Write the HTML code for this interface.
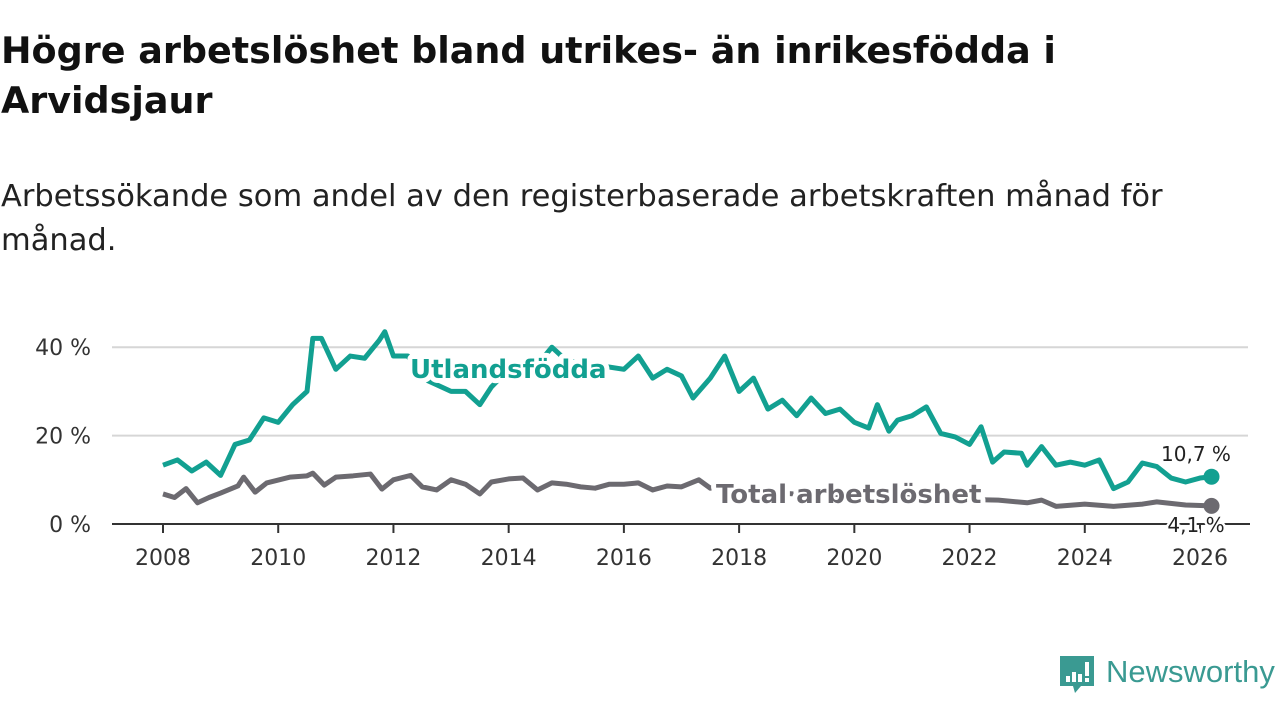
<!DOCTYPE html>
<html><head><meta charset="utf-8">
<style>
body{margin:0;width:1280px;height:720px;background:#fff;font-family:"DejaVu Sans",sans-serif;overflow:hidden;position:relative}
.title{position:absolute;left:1px;top:26px;font-size:36.5px;font-weight:bold;color:#111;line-height:50px}
.sub{position:absolute;left:1px;top:175px;font-size:30.5px;color:#222;line-height:44px}
svg{position:absolute;left:0;top:0}
</style></head><body>
<div class="title">Högre arbetslöshet bland utrikes- än inrikesfödda i<br>Arvidsjaur</div>
<div class="sub">Arbetssökande som andel av den registerbaserade arbetskraften månad för<br>månad.</div>
<svg id="chart" width="1280" height="720"></svg>
<script>
const yTicks=[0,20,40];
const yTickLabels=["0 %","20 %","40 %"];
const xTicks=[2008,2010,2012,2014,2016,2018,2020,2022,2024,2026];
const foreignX=[2008,2008.25,2008.5,2008.75,2009,2009.25,2009.5,2009.75,2010,2010.25,2010.5,2010.6,2010.75,2011,2011.25,2011.5,2011.75,2011.85,2012,2012.25,2012.5,2013,2013.25,2013.5,2013.7,2014,2014.5,2014.75,2015,2015.5,2016,2016.25,2016.5,2016.75,2017,2017.2,2017.5,2017.75,2018,2018.25,2018.5,2018.75,2019,2019.25,2019.5,2019.75,2020,2020.25,2020.4,2020.6,2020.75,2021,2021.25,2021.5,2021.75,2022,2022.2,2022.4,2022.6,2022.9,2023,2023.25,2023.5,2023.75,2024,2024.25,2024.5,2024.75,2025,2025.25,2025.5,2025.75,2026,2026.2];
const foreignVals=[13.3,14.5,12,14,11,18,19,24,23,27,30,42,42,35,38,37.5,41.5,43.5,38,38,33,30,30,27,31,35,36,40,37,36,35,38,33,35,33.5,28.5,33,38,30,33,26,28,24.5,28.5,25,26,23,21.7,27,21,23.5,24.5,26.5,20.5,19.7,18,22,14,16.3,16,13.3,17.5,13.3,14,13.3,14.5,8,9.5,13.8,13,10.4,9.5,10.4,10.7];
const totalX=[2008,2008.2,2008.4,2008.6,2008.8,2009,2009.3,2009.4,2009.6,2009.8,2010.2,2010.5,2010.6,2010.8,2011,2011.3,2011.6,2011.8,2012,2012.3,2012.5,2012.75,2013,2013.25,2013.5,2013.7,2014,2014.25,2014.5,2014.75,2015,2015.25,2015.5,2015.75,2016,2016.25,2016.5,2016.75,2017,2017.3,2017.5,2017.75,2018.25,2018.75,2019.25,2019.75,2020.25,2020.75,2021.25,2021.75,2022.2,2022.5,2023,2023.25,2023.5,2024,2024.5,2025,2025.25,2025.75,2026.2];
const totalVals=[6.8,6,8,4.8,6,7,8.6,10.6,7.2,9.3,10.6,10.9,11.5,8.8,10.6,10.9,11.3,7.9,10,11,8.4,7.7,10,9,6.8,9.5,10.2,10.4,7.7,9.3,9,8.4,8.1,9,9,9.3,7.7,8.6,8.4,10,8.1,9.3,7.5,7,6.5,6,6,7,6.5,6,5.5,5.4,4.8,5.4,4,4.5,4,4.5,5,4.3,4.1];
const NS="http://www.w3.org/2000/svg";
const svg=document.getElementById('chart');
const X=v=>163+(v-2008)*(1200-163)/18;
const Y=v=>524-v*4.42;
function el(t,a,p){const e=document.createElementNS(NS,t);for(const k in a)e.setAttribute(k,a[k]);(p||svg).appendChild(e);return e;}
yTicks.forEach((t,i)=>{
  if(t>0){const g=el('line',{x1:112,x2:1248,y1:Y(t),y2:Y(t),stroke:'#d6d6d6','stroke-width':2});
  
  }
  const l=el('text',{x:91,y:Y(t)+8,'text-anchor':'end','font-size':22,fill:'#333'});l.textContent=yTickLabels[i];
  
  
});
xTicks.forEach(t=>{
  const tk=el('line',{x1:X(t),x2:X(t),y1:524,y2:533,stroke:'#333','stroke-width':2});
  
  
  const l=el('text',{x:X(t),y:565,'text-anchor':'middle','font-size':22,fill:'#333'});l.textContent=t;
  
  
});
const ax=el('line',{x1:112,x2:1250,y1:524,y2:524,stroke:'#333','stroke-width':2});


function line(xs,vs,col,name){
  const p=el('polyline',{points:xs.map((x,i)=>X(x)+','+Y(vs[i])).join(' '),fill:'none',stroke:col,'stroke-width':5,'stroke-linejoin':'round'});
  
  
  const n=xs.length-1;
  const c=el('circle',{cx:X(xs[n]),cy:Y(vs[n]),r:8,fill:col});
  
  
}
line(totalX,totalVals,'#6c6a70','total-line');
line(foreignX,foreignVals,'#12a091','foreign-line');
function lab(txt,x,y,size,col,w,name,anchor,halo){
  const t=el('text',{x:x,y:y,'font-size':size,'font-weight':w,fill:col,stroke:'#fff','stroke-width':halo,'paint-order':'stroke','stroke-linejoin':'round','text-anchor':anchor});
  t.textContent=txt;
  
  
}
lab('Utlandsfödda',410,378,26,'#12a091','bold','foreign-series-label','start',10);
lab('Total arbetslöshet',716,503,26,'#6c6a70','bold','total-series-label','start',10);
lab('10,7 %',1196,461,20,'#222','normal','foreign-end-value','middle',5);
lab('4,1 %',1196,532,20,'#222','normal','total-end-value','middle',5);
</script>
<svg width="1280" height="720" style="pointer-events:none">
<path d="M1060 656 h34 v30 h-13 l-6 7 l-2 -7 h-13 z" fill="#3a9a92"/>
<rect x="1066" y="676" width="4" height="6" fill="#fff"/><rect x="1072" y="672" width="4" height="10" fill="#fff"/><rect x="1078" y="674" width="4" height="8" fill="#fff"/><rect x="1085" y="662" width="4" height="14" fill="#fff"/><rect x="1085" y="678" width="4" height="4" fill="#fff"/>
<text x="1106" y="682" font-size="31" fill="#3a9a92" font-family="Liberation Sans, sans-serif">Newsworthy</text>
</svg>
</body></html>
